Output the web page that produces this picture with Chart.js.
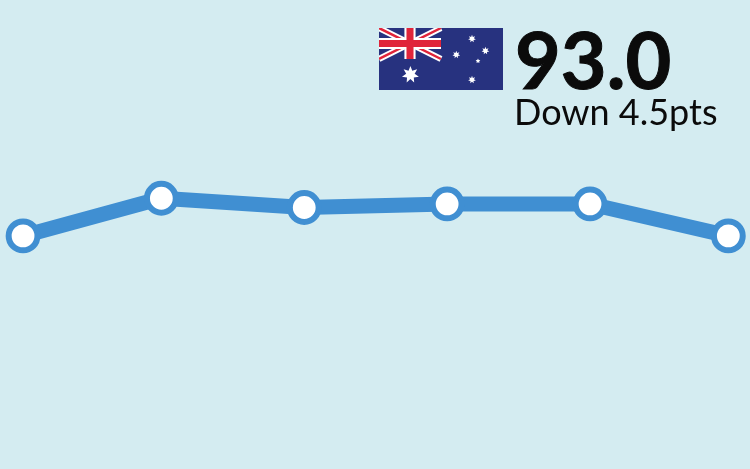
<!DOCTYPE html>
<html lang="en">

<head>
    <meta charset="UTF-8">
    <title>Australia index</title>
    <script src="https://cdn.jsdelivr.net/npm/chart.js"></script>
    <style>
        html, body { margin: 0; padding: 0; background: #d4ecf1; overflow: hidden; }
        #wrap { position: relative; width: 750px; height: 469px; }
        #myChart { position: absolute; left: 0; top: 0; }
        #flag { position: absolute; left: 379px; top: 28px; width: 124px; height: 62px; }
        .txt { position: absolute; font-family: Lato, sans-serif; color: #0b0b0b; white-space: nowrap; }
        #score { left: 515px; top: 6px; font-size: 79px; line-height: 106px; font-weight: 700; -webkit-text-stroke: 1px #0b0b0b; }
        #change { left: 514px; top: 88px; font-size: 36px; line-height: 46px; }
    </style>
</head>

<body>
    <div id="wrap">
        <canvas id="myChart" width="750" height="469"></canvas>
        <svg id="flag" viewBox="0 0 60 30" preserveAspectRatio="none">
            <rect width="60" height="30" fill="#27327f" />
            <path d="M0 0L30 15M30 0L0 15" stroke="#fff" stroke-width="3" />
            <path d="M0 0L30 15M30 0L0 15" stroke="#e0243a" stroke-width="1.2" />
            <path d="M15 0V15M0 7.5H30" stroke="#fff" stroke-width="5.4" />
            <path d="M15 0V15M0 7.5H30" stroke="#e0243a" stroke-width="3.4" />
            <g id="stars" fill="#fff"></g>
        </svg>
        <div id="score" class="txt">93.0</div>
        <div id="change" class="txt">Down 4.5pts</div>
    </div>

    <script>
        const days = [0, 30, 61, 92, 123, 153];
        const scores = [93.0, 98.3, 97.0, 97.5, 97.5, 93.0];

        // stars of the flag: x, y, outer radius, points
        const flagStars = [
            [15.2, 22.6, 4.2, 7],
            [45, 5.2, 1.9, 7],
            [37.4, 12.9, 1.9, 7],
            [51.5, 11, 1.9, 7],
            [47.9, 16, 1.2, 5],
            [45, 25, 1.9, 7]
        ];

        const starGroup = document.getElementById('stars');
        flagStars.forEach(([cx, cy, r, n]) => {
            const pts = [];
            for (let i = 0; i < n * 2; i++) {
                const rad = i % 2 ? r * 0.5 : r;
                const a = -Math.PI / 2 + i * Math.PI / n;
                pts.push((cx + rad * Math.cos(a)).toFixed(2) + ',' + (cy + rad * Math.sin(a)).toFixed(2));
            }
            const star = document.createElementNS('http://www.w3.org/2000/svg', 'polygon');
            star.setAttribute('points', pts.join(' '));
            starGroup.appendChild(star);
        });

        new Chart(document.getElementById('myChart'), {
            type: 'line',
            data: {
                datasets: [{
                    data: days.map((d, i) => ({ x: d, y: scores[i] })),
                    borderColor: '#408fd2',
                    borderWidth: 15,
                    borderJoinStyle: 'round',
                    tension: 0,
                    pointRadius: 14.4,
                    pointBorderWidth: 6,
                    pointBorderColor: '#408fd2',
                    pointBackgroundColor: '#ffffff',
                    clip: false
                }]
            },
            options: {
                responsive: false,
                animation: false,
                layout: { padding: 0, autoPadding: false },
                plugins: { legend: { display: false }, tooltip: { enabled: false }, title: { display: false } },
                scales: {
                    x: { type: 'linear', display: false, min: -5, max: 157.7 },
                    y: { display: false, min: 60.2, max: 126.2 }
                }
            }
        });
    </script>
</body>

</html>
